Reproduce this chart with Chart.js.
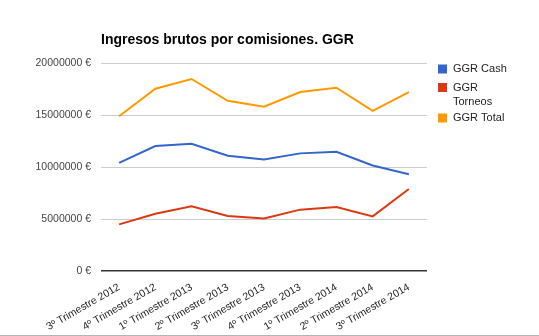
<!DOCTYPE html>
<html>
<head>
<meta charset="utf-8">
<script src="https://cdn.jsdelivr.net/npm/chart.js@4/dist/chart.umd.min.js"></script>
<style>
  html, body { margin: 0; padding: 0; background: #fff; }
  #wrap { position: relative; width: 539px; height: 335px; border-bottom: 1px solid #b4b4b4; }
</style>
</head>
<body>
<div id="wrap"><canvas id="ggrChart"></canvas></div>
<script>
const trimestres = [
  "3º Trimestre 2012", "4º Trimestre 2012", "1º Trimestre 2013",
  "2º Trimestre 2013", "3º Trimestre 2013", "4º Trimestre 2013",
  "1º Trimestre 2014", "2º Trimestre 2014", "3º Trimestre 2014"
];
const ggrCash = [10400000, 12020000, 12240000, 11080000, 10730000, 11310000, 11470000, 10150000, 9310000];
const ggrTorneos = [4480000, 5510000, 6220000, 5280000, 5060000, 5900000, 6150000, 5250000, 7890000];
const ggrTotal = [14880000, 17530000, 18460000, 16360000, 15790000, 17210000, 17620000, 15400000, 17200000];
const yTicks = [0, 5000000, 10000000, 15000000, 20000000];

const FONT = "Arial, 'Liberation Sans', sans-serif";

// titulo y leyenda dibujados a mano (la leyenda parte "GGR Torneos" en dos lineas)
const decoracion = {
  id: "decoracion",
  afterDraw(chart) {
    const c = chart.ctx;
    const area = chart.chartArea;
    c.save();
    c.fillStyle = "#000";
    c.font = "bold 14px " + FONT;
    c.textBaseline = "middle";
    c.textAlign = "left";
    c.fillText("Ingresos brutos por comisiones. GGR", area.left, 40);

    c.font = "11px " + FONT;
    const items = [
      { lines: ["GGR Cash"], y: 69 },
      { lines: ["GGR", "Torneos"], y: 87.5 },
      { lines: ["GGR Total"], y: 118 }
    ];
    items.forEach((it, i) => {
      c.fillStyle = chart.data.datasets[i].borderColor;
      c.fillRect(438, it.y - 4.5, 9, 9);
      c.fillStyle = "#222";
      it.lines.forEach((t, j) => c.fillText(t, 453, it.y + j * 14));
    });
    c.restore();
  }
};

new Chart(document.getElementById("ggrChart"), {
  type: "line",
  data: {
    labels: trimestres,
    datasets: [
      { label: "GGR Cash", data: ggrCash, borderColor: "#3366cc" },
      { label: "GGR Torneos", data: ggrTorneos, borderColor: "#dc3912" },
      { label: "GGR Total", data: ggrTotal, borderColor: "#ff9900" }
    ]
  },
  options: {
    responsive: true,
    maintainAspectRatio: false,
    animation: false,
    layout: { padding: { top: 63, right: 112, bottom: 0, left: 0 } },
    elements: {
      line: { borderWidth: 2, tension: 0, fill: false },
      point: { radius: 0 }
    },
    plugins: {
      legend: { display: false },
      title: { display: false },
      tooltip: { enabled: false }
    },
    scales: {
      x: {
        offset: true,
        grid: { display: false },
        border: { display: false },
        afterFit(scale) { scale.height = 64; },
        ticks: {
          color: "#222",
          font: { family: FONT, size: 10.5 },
          minRotation: 30,
          maxRotation: 30,
          padding: 2,
          autoSkip: false
        }
      },
      y: {
        min: 0,
        max: 20000000,
        afterFit(scale) { scale.width = 101; },
        afterBuildTicks(scale) { scale.ticks = yTicks.map(v => ({ value: v })); },
        border: { display: false },
        grid: {
          drawTicks: false,
          color: ctx => (ctx.tick && ctx.tick.value === 0 ? "#333" : "#cccccc"),
          lineWidth: ctx => (ctx.tick && ctx.tick.value === 0 ? 1.5 : 1)
        },
        ticks: {
          color: "#444",
          padding: 10,
          font: { family: FONT, size: 10.5 },
          callback: v => v + " €"
        }
      }
    }
  },
  plugins: [decoracion]
});
</script>
</body>
</html>
